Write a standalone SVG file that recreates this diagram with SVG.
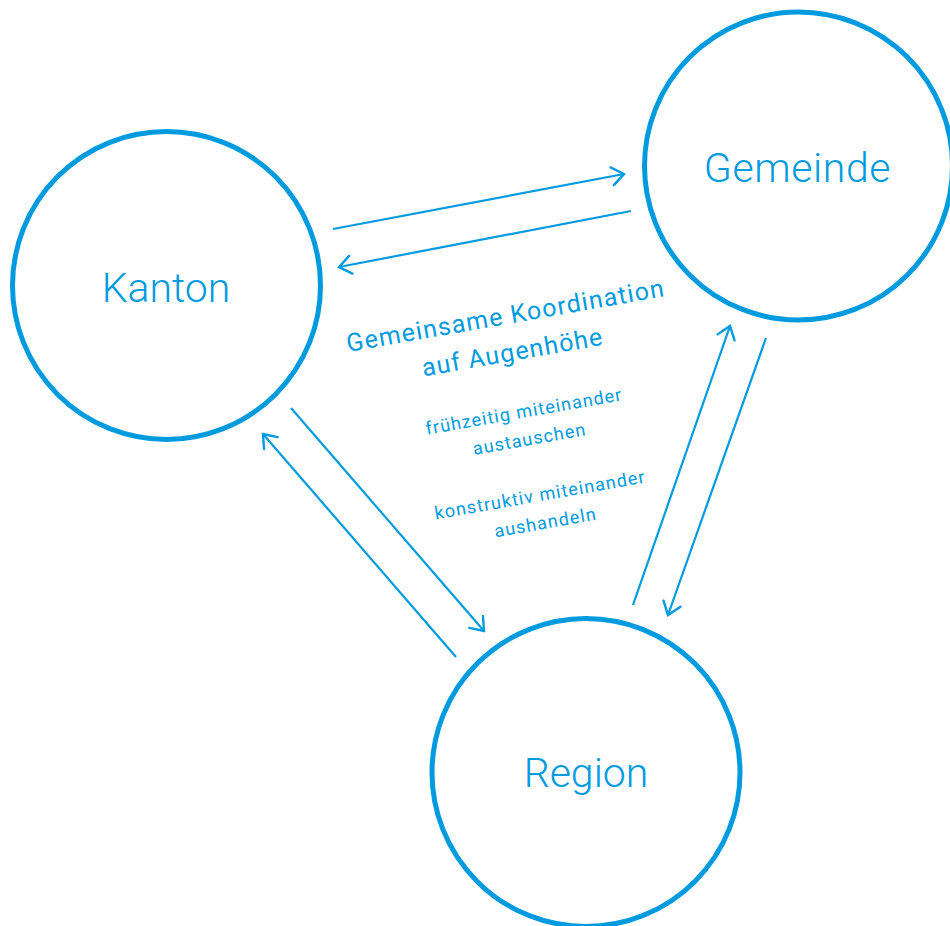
<svg xmlns="http://www.w3.org/2000/svg" width="950" height="926" viewBox="0 0 950 926">
  <style>
    .node { fill: #ffffff; stroke: #009bdf; stroke-width: 5; }
    .lbl { font-family: Roboto, "Liberation Sans", Arial, sans-serif; font-weight: 300; fill: #009bdf; text-anchor: middle; }
    .big { font-size: 41px; }
    .wide { letter-spacing: 0.6px; }
    .title { font-size: 25px; letter-spacing: 1.2px; font-weight: 400; }
    .small { font-size: 18px; letter-spacing: 1.1px; font-weight: 400; }
    .conn { fill: none; stroke: #009bdf; stroke-width: 2.2; marker-end: url(#arrow); }
  </style>
  <defs>
    <marker id="arrow" markerUnits="userSpaceOnUse" orient="auto" refX="0" refY="0" markerWidth="30" markerHeight="30" viewBox="-15 -15 30 30" overflow="visible">
      <path d="M-12,-9 L0,0 L-12,9" fill="none" stroke="#009bdf" stroke-width="2.4" stroke-linecap="round" stroke-linejoin="miter"/>
    </marker>
  </defs>
  <rect width="950" height="926" fill="#ffffff"/>

  <g id="connectors">
    <line class="conn" x1="333" y1="229" x2="624" y2="174"/>
    <line class="conn" x1="631" y1="211" x2="339" y2="267"/>
    <line class="conn" x1="291" y1="408" x2="484" y2="631"/>
    <line class="conn" x1="456" y1="657" x2="263" y2="434"/>
    <line class="conn" x1="633" y1="605" x2="730" y2="326"/>
    <line class="conn" x1="766" y1="338" x2="668" y2="615"/>
  </g>

  <g id="node-kanton">
    <circle class="node" cx="166.5" cy="285.5" r="154"/>
    <text class="lbl big" x="166" y="302">Kanton</text>
  </g>
  <g id="node-gemeinde">
    <circle class="node" cx="798.5" cy="166" r="154"/>
    <text class="lbl big wide" x="797.5" y="182">Gemeinde</text>
  </g>
  <g id="node-region">
    <circle class="node" cx="586" cy="772.5" r="154"/>
    <text class="lbl big" x="586" y="787">Region</text>
  </g>

  <g id="label-center">
    <text class="lbl title" x="507" y="324" transform="rotate(-10 507 324)">Gemeinsame Koordination</text>
    <text class="lbl title" x="514" y="360.5" transform="rotate(-10 514 360.5)">auf Augenhöhe</text>
    <text class="lbl small" x="525" y="417.5" transform="rotate(-10 525 417.5)">frühzeitig miteinander</text>
    <text class="lbl small" x="530.5" y="445" transform="rotate(-10 530.5 445)">austauschen</text>
    <text class="lbl small" x="541" y="501" transform="rotate(-10 541 501)">konstruktiv miteinander</text>
    <text class="lbl small" x="546.5" y="528.5" transform="rotate(-10 546.5 528.5)">aushandeln</text>
  </g>
</svg>
